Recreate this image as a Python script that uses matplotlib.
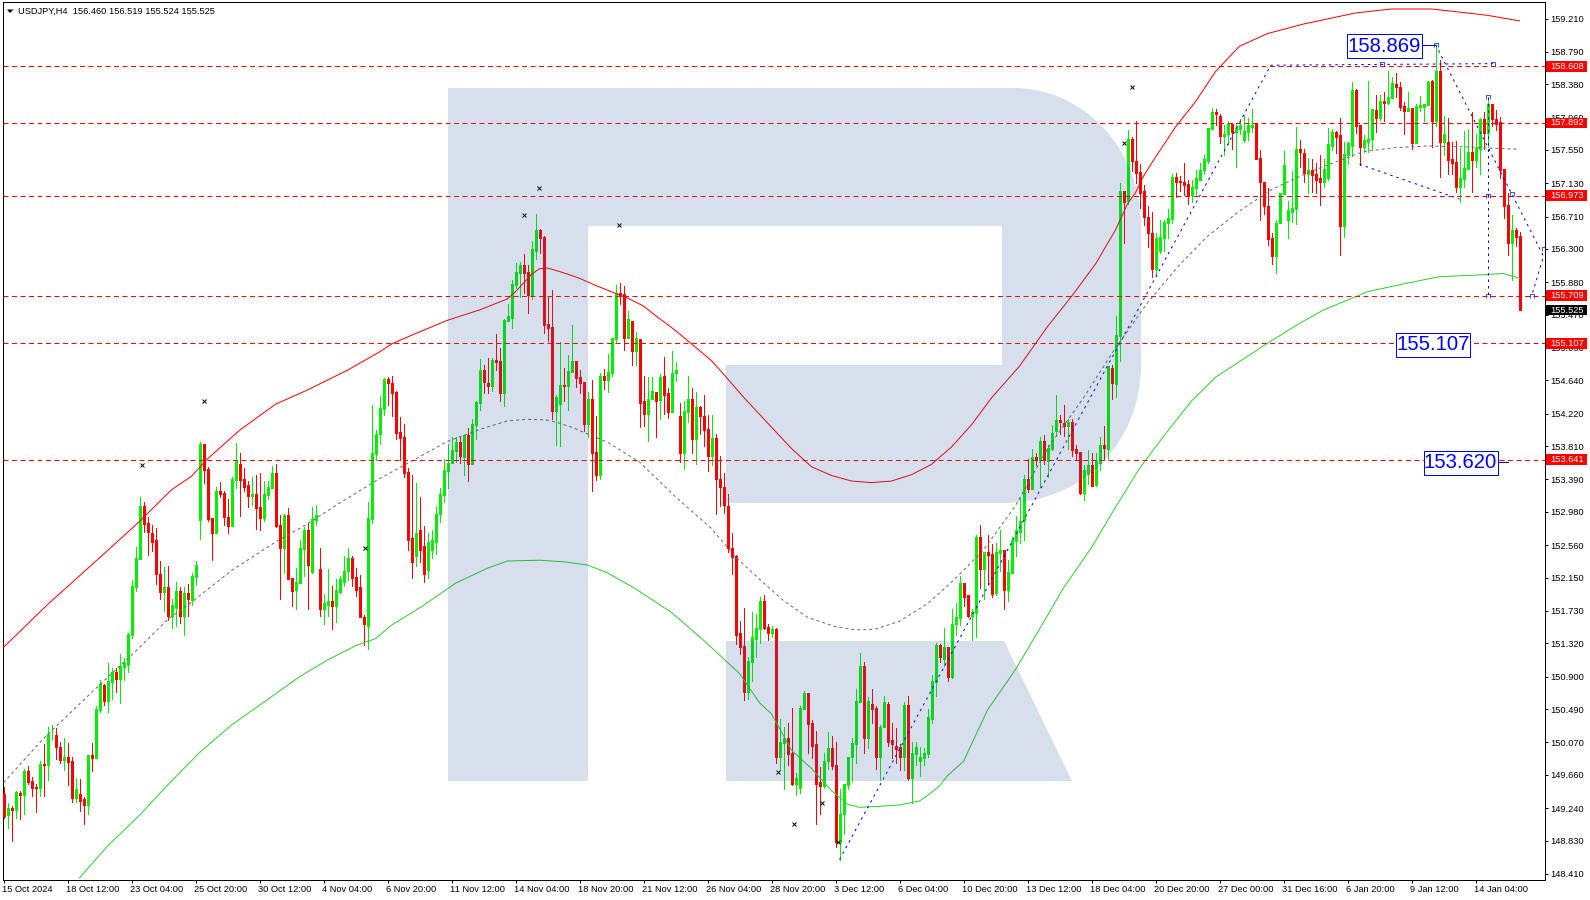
import matplotlib
matplotlib.use('Agg')
import matplotlib.pyplot as plt
from matplotlib.patches import PathPatch, Rectangle
from matplotlib.path import Path
from matplotlib.transforms import Affine2D, ScaledTranslation

# USDJPY H4 candles
opens = [
    149.42,149.15,149.24,149.22,149.43,149.41,149.71,149.58,149.51,149.50,
    149.80,149.79,150.17,150.16,150.01,149.85,149.89,149.84,149.37,149.42,
    149.36,149.28,149.91,149.87,150.48,150.80,150.59,150.83,150.96,150.87,
    151.02,151.05,151.43,152.03,152.38,153.05,152.84,152.72,152.62,152.20,
    151.97,152.03,151.66,151.77,151.98,151.67,151.95,151.87,152.16,152.88,
    153.84,153.52,152.90,152.72,153.25,153.22,152.91,152.80,153.38,153.58,
    153.39,153.32,153.18,153.20,153.04,152.90,153.19,153.28,153.47,152.81,
    152.52,152.94,152.14,152.00,152.08,152.51,152.75,152.22,152.88,152.26,
    151.75,151.81,151.85,151.79,151.97,152.09,152.23,152.40,152.16,152.03,
    151.65,151.54,152.89,153.71,153.96,154.28,154.66,154.61,154.49,153.99,
    153.93,153.49,152.65,152.42,152.75,152.55,152.25,152.50,152.60,152.95,
    153.19,153.50,153.60,153.75,153.86,153.67,153.95,153.59,154.08,154.36,
    154.77,154.61,154.57,154.90,154.89,154.48,155.39,155.43,155.85,156.00,
    156.10,156.01,155.72,156.28,156.54,156.45,155.35,155.32,154.25,154.34,
    154.58,154.57,154.75,154.89,154.68,154.62,154.09,154.40,153.74,153.44,
    154.70,154.64,154.74,155.16,155.74,155.73,155.18,155.39,155.01,155.16,
    154.38,154.22,154.40,154.50,154.39,154.69,154.48,154.24,154.73,154.19,
    153.73,154.24,154.40,153.90,154.30,154.19,154.03,153.68,153.91,153.40,
    153.30,153.06,152.52,152.42,151.45,151.29,150.71,151.08,151.38,151.50,
    151.86,151.53,151.45,151.50,149.89,150.06,150.12,149.93,149.54,149.50,
    150.49,150.69,150.31,150.05,149.57,149.52,149.83,150.00,149.78,148.81,
    149.16,149.53,149.88,150.05,150.58,151.04,150.12,150.56,150.50,149.88,
    150.26,150.56,150.10,150.02,150.01,149.89,150.54,149.62,149.92,149.84,
    149.87,149.92,150.36,150.83,151.30,151.12,151.28,150.89,151.56,151.64,
    152.08,151.93,151.66,151.71,152.66,152.26,152.47,152.45,151.95,152.46,
    152.50,151.99,152.21,152.61,152.73,152.86,153.39,153.27,153.67,153.63,
    153.88,153.62,153.77,154.00,154.14,154.10,154.07,154.11,153.77,153.74,
    153.22,153.46,153.57,153.32,153.60,153.83,153.78,154.80,154.60,155.20,
    157.03,156.90,157.69,157.41,157.27,157.03,156.71,156.50,156.05,156.27,
    156.44,156.63,156.68,157.21,157.16,157.14,157.12,156.98,157.07,157.17,
    157.30,157.41,157.82,158.03,157.98,157.73,157.75,157.88,157.78,157.82,
    157.67,157.78,157.84,157.88,157.45,157.15,156.84,156.44,156.21,156.63,
    156.99,156.67,156.77,156.81,157.56,157.51,157.25,157.30,157.25,157.19,
    157.15,157.19,157.60,157.78,157.74,156.59,157.49,157.60,158.31,157.87,
    157.59,157.65,157.69,158.06,157.95,158.17,158.14,158.21,158.38,158.35,
    158.11,158.04,158.08,157.64,158.09,158.09,158.12,158.42,157.92,158.55,
    157.65,157.65,157.44,157.40,157.08,157.18,157.31,157.53,157.42,157.56,
    157.94,157.77,158.13,157.94,157.90,157.31,156.86,156.38,156.54,156.46,
]
highs = [
    149.51,149.31,149.27,149.46,149.45,149.74,149.77,149.63,149.55,149.84,
    150.05,150.26,150.29,150.25,150.07,150.13,150.06,149.89,149.62,149.61,
    149.38,149.91,150.06,150.53,150.86,150.81,151.07,151.01,151.01,151.18,
    151.13,151.45,152.12,152.54,153.17,153.10,152.91,152.81,152.78,152.36,
    152.29,152.30,151.88,152.09,152.03,152.03,152.07,152.21,152.36,153.86,
    153.84,153.55,152.90,153.29,153.36,153.25,153.14,153.42,153.85,153.72,
    153.53,153.37,153.42,153.44,153.47,153.37,153.37,153.56,153.58,152.94,
    152.96,153.03,152.14,152.27,152.62,152.79,152.84,153.04,153.07,152.52,
    151.94,152.26,152.04,152.13,152.17,152.42,152.52,152.42,152.27,152.18,
    151.68,153.10,154.33,154.01,154.44,154.67,154.68,154.70,154.51,154.18,
    154.09,153.53,153.45,153.35,153.17,152.80,152.72,152.75,153.05,153.28,
    153.65,153.84,153.93,153.93,153.93,153.95,154.04,154.15,154.38,154.91,
    154.84,154.92,154.92,155.23,155.05,155.42,155.61,155.91,156.12,156.14,
    156.24,156.10,156.40,156.74,156.55,156.47,155.71,155.78,154.46,155.13,
    154.80,154.96,155.34,154.89,154.77,154.62,154.50,154.64,154.19,154.73,
    154.78,154.97,155.17,155.84,155.87,155.83,155.52,155.39,155.25,155.16,
    154.69,154.68,154.68,154.50,154.72,154.93,154.55,155.01,154.87,154.35,
    154.38,154.70,154.54,154.50,154.32,154.46,154.20,154.20,153.96,153.69,
    153.47,153.20,152.72,152.44,151.60,151.77,151.15,151.72,151.69,151.91,
    151.93,151.57,151.54,151.51,150.36,150.27,150.32,150.50,149.68,150.53,
    150.72,150.69,150.35,150.21,149.76,149.93,150.20,150.15,150.07,149.48,
    149.55,149.89,150.13,150.75,151.20,151.09,150.64,150.74,150.53,150.29,
    150.66,150.58,150.31,150.25,150.05,150.58,150.66,150.07,150.08,150.01,
    150.00,150.49,150.92,151.32,151.31,151.52,151.28,151.75,151.83,152.17,
    152.08,151.93,151.76,152.69,152.81,152.48,152.69,152.57,152.59,152.75,
    152.50,152.37,152.66,152.93,153.15,153.45,153.65,153.78,153.72,153.92,
    153.95,153.83,154.08,154.45,154.20,154.33,154.15,154.15,153.83,153.74,
    153.57,153.76,153.73,153.72,153.93,154.07,154.82,154.84,155.45,157.13,
    157.03,157.80,157.72,157.92,157.37,157.11,156.84,156.77,156.50,156.67,
    156.66,156.81,157.25,157.26,157.22,157.39,157.17,157.17,157.30,157.38,
    157.49,157.83,158.08,158.07,158.01,157.87,157.92,157.89,157.89,157.94,
    157.99,157.96,158.07,157.88,157.55,157.15,157.07,156.50,156.67,157.01,
    157.54,156.91,157.29,157.84,157.68,157.56,157.45,157.43,157.38,157.49,
    157.43,157.83,157.82,157.79,157.96,157.65,157.65,158.41,158.32,157.87,
    157.74,158.42,158.07,158.25,158.25,158.28,158.55,158.47,158.52,158.41,
    158.16,158.28,158.08,158.13,158.23,158.13,158.42,158.43,158.88,158.69,
    157.98,157.95,157.65,157.66,157.58,157.79,157.82,158.03,157.75,157.95,
    158.03,158.18,158.13,158.05,157.97,157.31,157.01,156.73,156.57,156.519,
]
lows = [
    149.11,148.99,148.82,149.11,149.10,149.17,149.55,149.39,149.19,149.39,
    149.39,149.60,150.10,149.86,149.81,149.72,149.53,149.32,149.32,149.21,
    149.04,149.16,149.71,149.87,150.46,150.54,150.46,150.62,150.71,150.57,
    150.86,150.96,151.39,151.98,152.38,152.73,152.44,152.49,152.07,151.88,
    151.73,151.62,151.52,151.54,151.58,151.42,151.67,151.81,152.06,152.64,
    153.34,152.86,152.37,152.71,153.17,152.82,152.71,152.80,153.28,152.93,
    153.25,153.04,153.07,152.76,152.75,152.86,153.14,153.28,152.79,151.88,
    152.21,152.13,151.79,151.75,152.08,152.17,151.75,152.21,152.81,151.66,
    151.56,151.66,151.50,151.59,151.95,152.04,152.12,152.04,151.92,151.65,
    151.30,151.25,152.84,153.63,153.84,154.21,154.33,154.19,153.90,153.64,
    153.42,152.50,152.15,152.30,152.35,152.10,152.15,152.40,152.45,152.85,
    153.10,153.28,153.60,153.61,153.60,153.45,153.37,153.59,153.90,154.27,
    154.48,154.48,154.51,154.77,154.38,154.32,155.39,155.30,155.81,155.69,
    155.75,155.49,155.67,156.17,156.25,155.24,155.14,154.15,153.83,153.81,
    154.38,154.27,154.75,154.56,154.48,154.00,153.92,153.24,153.38,153.40,
    154.53,154.50,154.69,155.13,155.60,155.02,155.17,154.84,154.83,154.05,
    154.07,153.87,154.40,153.93,154.15,154.22,154.16,154.24,154.63,153.61,
    153.52,154.12,153.72,153.59,153.96,153.81,153.50,153.57,152.95,153.06,
    152.97,152.47,152.19,151.31,151.18,150.60,150.62,150.85,151.15,151.32,
    151.50,151.36,151.40,149.81,149.72,149.48,149.78,149.53,149.41,149.43,
    150.49,149.94,149.87,149.04,149.17,149.50,149.74,149.73,148.75,148.59,
    148.91,149.48,149.58,149.81,150.58,149.94,150.00,150.31,149.73,149.60,
    150.26,150.02,149.87,149.81,149.72,149.72,149.60,149.31,149.79,149.64,
    149.79,149.89,150.31,150.65,151.09,151.04,150.85,150.88,151.42,151.55,
    151.79,151.65,151.36,151.40,152.02,151.88,152.07,151.91,151.93,152.23,
    151.76,151.85,152.21,152.42,152.59,152.63,153.23,153.27,153.57,153.29,
    153.58,153.42,153.76,153.97,153.97,153.94,153.78,153.69,153.63,153.21,
    153.13,153.33,153.31,153.31,153.51,153.64,153.65,154.41,154.43,154.89,
    156.37,156.87,157.28,157.13,156.82,156.60,156.33,155.94,155.96,156.25,
    156.28,156.44,156.63,156.96,157.03,156.98,156.87,156.89,156.98,157.17,
    157.25,157.39,157.82,157.87,157.64,157.49,157.63,157.56,157.34,157.75,
    157.65,157.68,157.78,157.44,156.66,156.74,156.35,156.11,156.00,156.63,
    156.99,156.44,156.64,156.62,157.34,157.14,157.01,157.02,157.01,156.86,
    157.08,157.17,157.55,157.51,156.23,156.45,157.37,157.47,157.77,157.36,
    157.53,157.53,157.56,157.78,157.93,157.92,158.13,158.21,158.22,158.06,
    157.75,158.04,157.56,157.64,158.04,157.92,158.12,157.59,157.85,157.21,
    157.49,157.25,157.25,157.02,156.89,157.08,157.31,157.02,157.34,157.25,
    157.56,157.59,157.85,157.80,157.19,156.69,156.22,155.91,156.34,155.524,
]
closes = [
    149.14,149.24,149.22,149.44,149.41,149.71,149.57,149.50,149.50,149.80,
    149.79,150.18,150.18,150.01,149.85,149.89,149.82,149.37,149.48,149.33,
    149.28,149.91,149.87,150.49,150.81,150.59,150.85,150.96,150.87,151.04,
    151.07,151.44,152.05,152.40,153.06,152.83,152.73,152.60,152.19,151.97,
    152.03,151.66,151.81,151.98,151.67,151.95,151.88,152.17,152.31,153.84,
    153.51,152.89,152.72,153.25,153.20,152.91,152.80,153.39,153.62,153.38,
    153.30,153.18,153.20,153.03,152.90,153.20,153.30,153.47,152.80,152.52,
    152.94,152.13,151.98,152.09,152.52,152.75,152.31,152.89,152.94,151.75,
    151.83,151.85,151.79,151.99,152.13,152.24,152.40,152.14,152.00,151.65,
    151.56,152.90,153.72,153.97,154.29,154.66,154.61,154.48,153.98,153.91,
    153.47,152.62,152.35,152.72,152.50,152.20,152.60,152.62,152.95,153.21,
    153.51,153.60,153.76,153.86,153.69,153.95,153.59,154.09,154.37,154.77,
    154.62,154.57,154.90,154.87,154.48,155.40,155.45,155.86,156.01,156.10,
    156.00,155.72,156.30,156.54,156.44,155.34,155.30,154.25,154.43,154.58,
    154.57,154.76,154.89,154.67,154.61,154.09,154.40,153.73,153.44,154.70,
    154.65,154.75,155.17,155.74,155.70,155.18,155.41,155.01,155.17,154.36,
    154.22,154.41,154.51,154.38,154.68,154.46,154.24,154.74,154.77,153.73,
    154.25,154.40,153.90,154.30,154.19,154.02,153.68,153.91,153.39,153.29,
    153.07,152.52,152.41,151.43,151.28,150.71,151.10,151.40,151.51,151.86,
    151.51,151.45,151.50,149.89,150.07,150.12,149.92,149.55,149.62,150.50,
    150.69,150.30,150.03,149.55,149.52,149.84,150.00,149.77,148.81,149.17,
    149.54,149.89,150.06,150.59,151.04,150.12,150.59,150.49,149.88,150.27,
    150.58,150.08,150.05,149.99,149.89,150.54,149.62,149.93,150.01,149.88,
    149.93,150.39,150.84,151.30,151.15,151.28,150.89,151.57,151.65,152.08,
    151.91,151.66,151.72,152.66,152.26,152.47,152.43,151.94,152.47,152.50,
    151.99,152.22,152.63,152.75,152.87,153.39,153.27,153.67,153.63,153.88,
    153.63,153.79,153.98,154.14,154.11,154.07,154.11,153.76,153.73,153.22,
    153.51,153.57,153.31,153.62,153.82,153.79,154.82,154.61,155.21,157.03,
    156.89,157.69,157.41,157.26,157.01,156.70,156.50,156.05,156.44,156.45,
    156.64,156.69,157.21,157.15,157.14,157.11,156.98,157.08,157.19,157.30,
    157.43,157.83,158.03,158.01,157.73,157.75,157.88,157.78,157.83,157.87,
    157.79,157.86,157.87,157.44,157.14,156.84,156.43,156.21,156.63,157.01,
    157.36,156.79,156.82,157.56,157.53,157.26,157.30,157.24,157.17,157.15,
    157.31,157.62,157.78,157.72,156.59,157.50,157.64,158.31,157.85,157.59,
    157.68,157.69,158.07,157.95,158.17,158.14,158.22,158.40,158.35,158.09,
    158.04,158.08,157.64,158.11,158.12,158.13,158.41,157.92,158.55,157.65,
    157.75,157.42,157.39,157.08,157.20,157.32,157.53,157.42,157.58,157.94,
    157.77,158.13,157.94,157.88,157.30,156.84,156.38,156.54,156.45,155.525,
]

# envelope and moving average, readings at some bars
red_bars = [0,11,24,34,42,47,51,59,68,76,86,94,97,102,111,119,126,128,130,132,134,136,140,144,148,152,156,160,163,168,173,177,180,185,192,197,202,207,212,217,222,227,232,237,242,247,254,261,267,273,278,281,283,285,288,293,298,303,309,316,325,338,347,357,366,371,379]
red_vals = [151.27,151.81,152.40,152.86,153.26,153.43,153.65,154.01,154.34,154.52,154.77,155.00,155.10,155.21,155.40,155.53,155.67,155.76,155.87,155.98,156.05,156.06,156.00,155.93,155.84,155.76,155.68,155.58,155.46,155.27,155.06,154.89,154.72,154.43,154.05,153.78,153.55,153.44,153.37,153.35,153.37,153.45,153.58,153.80,154.08,154.42,154.82,155.32,155.70,156.11,156.54,156.87,157.01,157.22,157.46,157.84,158.16,158.54,158.86,159.02,159.14,159.28,159.33,159.33,159.28,159.25,159.18]
grey_bars = [0,10,22,33,41,47,57,68,76,83,94,102,111,119,126,131,136,139,142,151,159,168,177,183,189,195,201,208,213,218,224,231,238,245,253,261,270,278,286,294,301,309,317,326,332,340,348,356,365,373,379]
grey_vals = [149.56,150.12,150.70,151.22,151.62,151.84,152.24,152.60,152.83,153.06,153.40,153.62,153.87,154.02,154.13,154.15,154.14,154.10,154.05,153.86,153.61,153.17,152.77,152.41,152.13,151.86,151.65,151.53,151.49,151.50,151.60,151.82,152.14,152.50,153.06,153.78,154.42,155.05,155.62,156.10,156.46,156.78,157.05,157.26,157.38,157.53,157.58,157.60,157.59,157.57,157.56]
green_bars = [19,26,34,41,49,57,66,74,81,88,93,97,105,113,121,126,134,140,146,151,158,167,175,184,189,192,197,202,207,211,214,218,224,229,231,234,236,240,246,253,259,265,272,278,284,291,297,303,316,324,330,341,351,359,368,375,379]
green_vals = [148.36,148.76,149.15,149.53,149.94,150.29,150.61,150.90,151.11,151.29,151.38,151.55,151.80,152.08,152.27,152.36,152.37,152.35,152.31,152.21,152.01,151.71,151.36,150.94,150.57,150.43,149.97,149.74,149.46,149.29,149.25,149.26,149.28,149.33,149.40,149.52,149.65,149.83,150.48,150.99,151.50,152.02,152.53,153.04,153.53,154.00,154.38,154.68,155.11,155.36,155.53,155.76,155.87,155.95,155.97,155.99,155.93]

# blue forecast zigzag
zigzag_bars = [209,316.8,372.4]
zigzag_vals = [148.59,158.62,158.64]
drop_bars = [358,385,382]
drop_vals = [158.88,156.21,155.70]
lower_bars = [339,364]
lower_vals = [157.37,156.93]
vert_bars = [371,371]
vert_vals = [158.22,155.70]
bracket_bars = [358,344.6,372.4,371,371,371,377,385,382]
bracket_vals = [158.88,158.64,158.64,158.22,156.97,155.70,157.00,156.30,155.70]

cross_bars = [34.7,50,90.4,130,133.8,153.8,193.7,204.7,197.7,208.7,282,280]
cross_vals = [153.57,154.38,152.52,156.73,157.07,156.60,149.70,149.31,149.04,148.81,158.34,157.64]

levels = [158.608,157.892,156.973,155.709,155.107,153.641]
level_labels = ['158.608','157.892','156.973','155.709','155.107','153.641']
last_price = 155.525
last_label = '155.525'

price_ticks = [159.21,158.79,158.38,157.96,157.55,157.13,156.71,156.30,155.88,155.47,155.05,154.64,154.22,153.81,153.39,152.98,152.56,152.15,151.73,151.32,150.90,150.49,150.07,149.66,149.24,148.83,148.41]
date_labels = ['15 Oct 2024','18 Oct 12:00','23 Oct 04:00','25 Oct 20:00','30 Oct 12:00','4 Nov 04:00','6 Nov 20:00','11 Nov 12:00','14 Nov 04:00','18 Nov 20:00','21 Nov 12:00','26 Nov 04:00','28 Nov 20:00','3 Dec 12:00','6 Dec 04:00','10 Dec 20:00','13 Dec 12:00','18 Dec 04:00','20 Dec 20:00','27 Dec 00:00','31 Dec 16:00','6 Jan 20:00','9 Jan 12:00','14 Jan 04:00']

PX = 0.72  # one pixel in points at dpi 100
FONT = 'Liberation Sans'


def logo_patch(zorder):
    # the R watermark, in image pixels, y down
    verts = [(448,88),(1013,88),(1085,88),(1141,150),(1141,225),(1141,365),(1141,440),(1085,503),(1003,503),
             (726,503),(726,365),(1002,365),(1002,226),(588,226),(588,781),(448,781),(448,88),
             (726,641),(1004,641),(1072,781),(726,781),(726,641)]
    codes = [Path.MOVETO,Path.LINETO,Path.CURVE4,Path.CURVE4,Path.CURVE4,Path.LINETO,Path.CURVE4,Path.CURVE4,Path.CURVE4,
             Path.LINETO,Path.LINETO,Path.LINETO,Path.LINETO,Path.LINETO,Path.LINETO,Path.LINETO,Path.CLOSEPOLY,
             Path.MOVETO,Path.LINETO,Path.LINETO,Path.LINETO,Path.CLOSEPOLY]
    to_display = Affine2D().scale(1, -1).translate(0, 900)
    return PathPatch(Path(verts, codes), facecolor='#325F9B', edgecolor='none', alpha=0.2,
                     transform=to_display, zorder=zorder)


def value_box(ax, left, right, y_top, y_bot, label):
    # blue box with the level value, in image pixels
    to_display = Affine2D().scale(1, -1).translate(0, 900)
    ax.add_patch(Rectangle((left, y_top), right - left, y_bot - y_top, facecolor='white', edgecolor='#0000FF',
                           linewidth=PX, transform=to_display, zorder=8, clip_on=False))
    ax.text((left + right) / 2, 900 - (y_top + y_bot) / 2 - 0.5, label, transform=Affine2D(), color='#0000FF',
            family=FONT, fontsize=14.6, ha='center', va='center', zorder=9)


def main():
    fig = plt.figure(figsize=(15.9, 9), dpi=100, facecolor='white')
    ax = fig.add_axes([2.5 / 1590, 1 - 879.5 / 900, 1542 / 1590, 877.5 / 900])
    ax.set_xlim(-0.25, 385.25)
    ax.set_ylim(159.21 - (879.5 - 18.5) / 79.2, 159.21 + 16.5 / 79.2)
    bars = list(range(len(opens)))

    up = [c >= o for o, c in zip(opens, closes)]
    colors = ['#00F000' if u else '#FF0000' for u in up]
    ax.vlines(bars, lows, highs, colors=colors, linewidth=PX, antialiased=False, zorder=3)
    tops = [max(o, c) for o, c in zip(opens, closes)]
    bots = [min(o, c) for o, c in zip(opens, closes)]
    body = ax.vlines(bars, bots, tops, colors=colors, linewidth=3 * PX, antialiased=False, zorder=3)
    body.set_capstyle('butt')

    ax.plot(red_bars, red_vals, color='#FF0000', lw=PX, zorder=4)
    ax.plot(green_bars, green_vals, color='#32CD32', lw=PX, zorder=4)
    ax.plot(grey_bars, grey_vals, color='#696969', lw=PX, dashes=(3, 3), zorder=4)

    for lev in levels:
        ax.axhline(lev, color='#FF0000', lw=PX, dashes=(5, 3.5), zorder=5)

    for xs, ys in [(zigzag_bars, zigzag_vals), (drop_bars, drop_vals), (lower_bars, lower_vals), (vert_bars, vert_vals)]:
        ax.plot(xs, ys, color='#0000FF', lw=PX, dashes=(2.5, 4), zorder=5, clip_on=False)
    bracket = Path([(-1, -1), (-1, 1), (1, 1), (1, -1)])
    ax.plot(bracket_bars, bracket_vals, ls='none', marker=bracket, ms=3, mfc='none', mec='#0000FF', mew=0.5, zorder=5)
    ax.plot(cross_bars, cross_vals, ls='none', marker='x', ms=2.6, mec='black', mew=0.7, zorder=5)

    ax.add_patch(logo_patch(6))

    for s in ax.spines.values():
        s.set_linewidth(PX)
        s.set_color('black')
    ax.yaxis.tick_right()
    ax.set_yticks(price_ticks)
    ax.set_yticklabels(['%.3f' % p for p in price_ticks], family=FONT, fontsize=6.7)
    ax.tick_params(axis='y', length=2.2, width=PX, pad=2.2)
    ax.set_xticks(bars[::16])
    ax.set_xticklabels(date_labels, family=FONT, fontsize=6.7, ha='left')
    ax.tick_params(axis='x', length=2.2, width=PX, pad=1.5)
    shift = ScaledTranslation(-1.5 / 100, 0, fig.dpi_scale_trans)
    for lab in ax.get_xticklabels():
        lab.set_transform(lab.get_transform() + shift)

    # price tags on the right edge
    tag_x = ax.get_yaxis_transform()
    left_frac = (1546 - 2.5) / 1542
    width_frac = 41.5 / 1542
    text_frac = (1550.5 - 2.5) / 1542
    for lev, lab in zip(levels, level_labels):
        ax.add_patch(Rectangle((left_frac, lev - 0.068), width_frac, 0.136, facecolor='#FF0000', edgecolor='none',
                               transform=tag_x, clip_on=False, zorder=10))
        ax.text(text_frac, lev, lab, transform=tag_x, color='white', family=FONT, fontsize=6.7, va='center', zorder=11, clip_on=False)
    ax.add_patch(Rectangle((left_frac, last_price - 0.062), width_frac, 0.124, facecolor='black', edgecolor='none',
                           transform=tag_x, clip_on=False, zorder=10))
    ax.text(text_frac, last_price, last_label, transform=tag_x, color='white', family=FONT, fontsize=6.7, va='center', zorder=11, clip_on=False)

    value_box(ax, 1347, 1421.5, 33.5, 57.5, '158.869')
    value_box(ax, 1395.5, 1470, 332.5, 356.5, '155.107')
    value_box(ax, 1423.5, 1497.5, 450.5, 474.5, '153.620')
    for left, right, y in [(1421.5, 1435, 45), (1497.5, 1507.5, 462)]:
        fig.add_artist(plt.Line2D([left, right], [900 - y, 900 - y], color='#0000FF', lw=PX, transform=Affine2D()))

    # header line
    fig.add_artist(plt.Polygon([(7, 890.5), (13.5, 890.5), (10, 887)], closed=True, facecolor='black', edgecolor='none', transform=Affine2D()))
    fig.text(18.5, 889, 'USDJPY,H4  156.460 156.519 155.524 155.525', transform=Affine2D(), family=FONT, fontsize=6.7, va='center', color='black')

    fig.savefig('out.png', dpi=100)


if __name__ == '__main__':
    main()
